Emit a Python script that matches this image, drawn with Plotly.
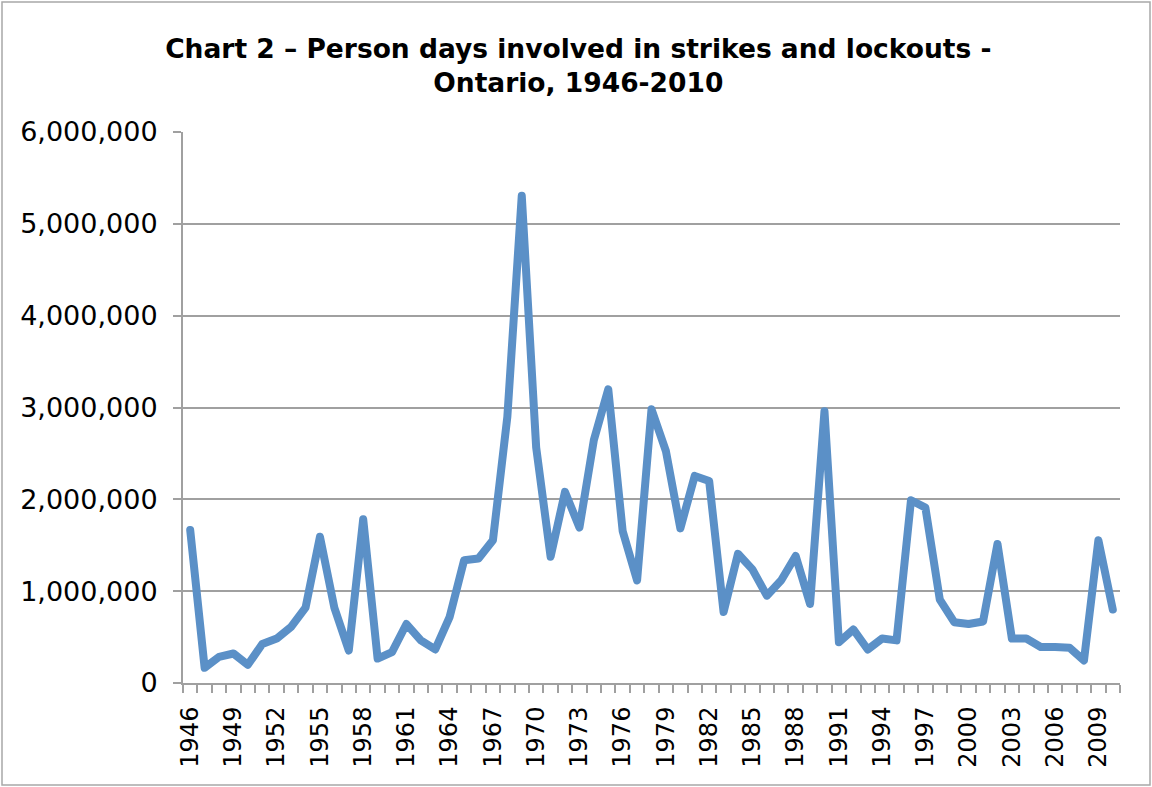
import plotly.graph_objects as go

years = list(range(1946, 2011))
person_days = [
    1665000, 166000, 285000, 321000, 198000, 424000, 484000, 610000, 820000, 1593000,
    820000, 353000, 1784000, 266000, 337000, 642000, 464000, 365000, 721000, 1336000,
    1355000, 1554000, 2900000, 5307000, 2564000, 1375000, 2081000, 1692000, 2644000, 3199000,
    1653000, 1118000, 2981000, 2525000, 1684000, 2255000, 2200000, 773000, 1407000, 1237000,
    951000, 1118000, 1383000, 860000, 2960000, 444000, 583000, 365000, 484000, 464000,
    1990000, 1910000, 908000, 662000, 642000, 670000, 1514000, 484000, 484000, 392000,
    392000, 384000, 246000, 1554000, 800000,
]
tick_years = list(range(1946, 2011, 3))
y_ticks = [0, 1000000, 2000000, 3000000, 4000000, 5000000, 6000000]
y_labels = ["0", "1,000,000", "2,000,000", "3,000,000", "4,000,000", "5,000,000", "6,000,000"]
title_text = "<b>Chart 2 – Person days involved in strikes and lockouts -<br>Ontario, 1946-2010</b>"

W, H = 1152, 787
L, R, T, B = 183, 32, 132, 104
pw, ph = W - L - R, H - T - B

fig = go.Figure()
fig.add_trace(go.Scatter(
    x=years, y=person_days, mode="lines",
    line=dict(color="#5B90C7", width=8),
    hoverinfo="x+y", showlegend=False,
))

fig.update_layout(
    width=W, height=H,
    margin=dict(l=L, r=R, t=T, b=B),
    paper_bgcolor="white", plot_bgcolor="white",
    font=dict(family="DejaVu Sans, Verdana, sans-serif", color="black"),
    title=dict(text=title_text, x=0.502, xanchor="center", y=1 - 58 / H, yanchor="middle",
               font=dict(size=26.5, family="DejaVu Sans, Verdana, sans-serif", color="black")),
    xaxis=dict(
        range=[1945.5, 2010.5], tickmode="array", tickvals=tick_years,
        ticktext=[str(y) for y in tick_years], tickangle=-90,
        tickfont=dict(size=24), showgrid=False, zeroline=False,
        showline=True, linecolor="#a0a0a0", linewidth=2,
        ticks="", ticklabelstandoff=12,
        minor=dict(tickmode="linear", tick0=1945.5, dtick=1, ticks="outside",
                   ticklen=8, tickcolor="#a0a0a0", tickwidth=1.5, showgrid=False),
    ),
    yaxis=dict(
        range=[0, 6000000], tickmode="array", tickvals=y_ticks, ticktext=y_labels,
        tickfont=dict(size=27), showgrid=True, gridcolor="#a0a0a0", gridwidth=2,
        zeroline=False, showline=True, linecolor="#a0a0a0", linewidth=2,
        ticks="outside", ticklen=8, tickcolor="#a0a0a0", tickwidth=2,
        ticklabelstandoff=10,
    ),
)

# outer chart border
fig.add_shape(type="rect", xref="paper", yref="paper",
              x0=(2 - L) / pw, x1=(1150 - L) / pw,
              y0=(H - B - 785) / ph, y1=(H - B - 2) / ph,
              line=dict(color="#a8a8a8", width=1.5), fillcolor="rgba(0,0,0,0)", layer="below")

post = """
document.body.style.margin='0';
document.body.style.padding='0';
var s=document.createElement('style');
s.innerHTML='.js-line{stroke-linejoin:round !important;stroke-linecap:round !important;}';
document.head.appendChild(s);
"""
fig.write_html("out.html", post_script=post, config={"displayModeBar": False})
